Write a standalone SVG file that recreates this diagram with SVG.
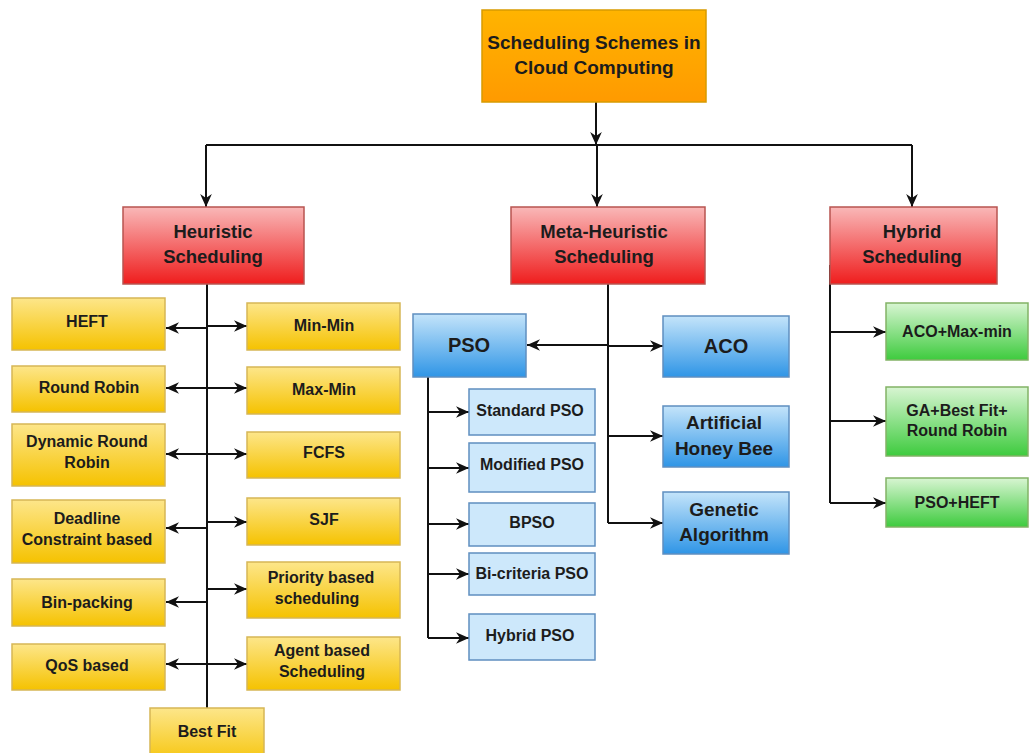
<svg xmlns="http://www.w3.org/2000/svg" width="1030" height="753" viewBox="0 0 1030 753">
<defs>
<linearGradient id="gY" x1="0" y1="0" x2="0" y2="1"><stop offset="0" stop-color="#fde68a"/><stop offset="1" stop-color="#f5c200"/></linearGradient>
<linearGradient id="gR" x1="0" y1="0" x2="0" y2="1"><stop offset="0" stop-color="#f9b8b8"/><stop offset="1" stop-color="#ef1d1d"/></linearGradient>
<linearGradient id="gO" x1="0" y1="0" x2="0" y2="1"><stop offset="0" stop-color="#ffb400"/><stop offset="1" stop-color="#ff9a00"/></linearGradient>
<linearGradient id="gB" x1="0" y1="0" x2="0" y2="1"><stop offset="0" stop-color="#c4e4fa"/><stop offset="1" stop-color="#2f95e6"/></linearGradient>
<linearGradient id="gG" x1="0" y1="0" x2="0" y2="1"><stop offset="0" stop-color="#d8f5d2"/><stop offset="1" stop-color="#3ecb3e"/></linearGradient>
<marker id="ah" viewBox="0 0 10 10" refX="10" refY="5" markerWidth="13" markerHeight="13" orient="auto" markerUnits="userSpaceOnUse">
<path d="M0,0.5 L10,5 L0,9.5 L3,5 z" fill="#111"/>
</marker>
</defs>
<style>
.y{fill:url(#gY);stroke:#d6b656;stroke-width:1.5}
.r{fill:url(#gR);stroke:#b85450;stroke-width:1.5}
.o{fill:url(#gO);stroke:#d79b00;stroke-width:1.5}
.b{fill:url(#gB);stroke:#5f8fc0;stroke-width:1.5}
.lb{fill:#cde8fb;stroke:#5f8fc0;stroke-width:1.5}
.g{fill:url(#gG);stroke:#82b366;stroke-width:1.5}
text{font-family:"Liberation Sans",Arial,sans-serif;font-weight:bold;fill:#1c1c1c;text-anchor:middle}
.t19{font-size:19px}
.t18{font-size:18.5px}
.t16{font-size:16px}
.t20{font-size:20px}
.c{fill:none;stroke:#111;stroke-width:2}
.ca{fill:none;stroke:#111;stroke-width:2;marker-end:url(#ah)}
</style>
<rect width="1030" height="753" fill="#ffffff"/>
<g id="connectors">
<path class="ca" d="M596,102 V145"/>
<path class="c" d="M206,145 H912"/>
<path class="ca" d="M206,145 V207"/>
<path class="ca" d="M597,145 V207"/>
<path class="ca" d="M912,145 V207"/>
<path class="c" d="M207,284 V708"/>
<path class="ca" d="M207,328 H166"/>
<path class="ca" d="M207,326 H247"/>
<path class="ca" d="M207,388 H166"/>
<path class="ca" d="M207,388 H247"/>
<path class="ca" d="M207,454 H166"/>
<path class="ca" d="M207,454 H247"/>
<path class="ca" d="M207,528 H166"/>
<path class="ca" d="M207,522 H247"/>
<path class="ca" d="M207,602 H166"/>
<path class="ca" d="M207,589 H247"/>
<path class="ca" d="M207,664 H166"/>
<path class="ca" d="M207,664 H247"/>
<path class="c" d="M608,284 V523"/>
<path class="ca" d="M608,345 H527"/>
<path class="ca" d="M608,346 H663"/>
<path class="ca" d="M608,436 H663"/>
<path class="ca" d="M608,523 H663"/>
<path class="c" d="M428,377 V638"/>
<path class="ca" d="M428,412 H469"/>
<path class="ca" d="M428,468 H469"/>
<path class="ca" d="M428,524 H469"/>
<path class="ca" d="M428,574 H469"/>
<path class="ca" d="M428,638 H469"/>
<path class="c" d="M830,265 V503"/>
<path class="ca" d="M830,332 H886"/>
<path class="ca" d="M830,421 H886"/>
<path class="ca" d="M830,503 H886"/>
</g>
<g id="root"><rect class="o" x="482" y="10" width="224" height="92"/><text class="t19" x="594" y="49">Scheduling Schemes in</text><text class="t19" x="594" y="74">Cloud Computing</text></g>
<g id="heuristic"><rect class="r" x="123" y="207" width="181" height="77"/><text class="t18" x="213" y="238">Heuristic</text><text class="t18" x="213" y="263">Scheduling</text></g>
<g id="meta"><rect class="r" x="511" y="207" width="194" height="77"/><text class="t18" x="604" y="238">Meta-Heuristic</text><text class="t18" x="604" y="263">Scheduling</text></g>
<g id="hybrid"><rect class="r" x="830" y="207" width="167" height="77"/><text class="t18" x="912" y="238">Hybrid</text><text class="t18" x="912" y="263">Scheduling</text></g>
<g id="heft"><rect class="y" x="12" y="298" width="153" height="52"/><text class="t16" x="87" y="327">HEFT</text></g>
<g id="roundrobin"><rect class="y" x="12" y="366" width="153" height="46"/><text class="t16" x="89" y="393">Round Robin</text></g>
<g id="drr"><rect class="y" x="12" y="424" width="153" height="62"/><text class="t16" x="87" y="447">Dynamic Round</text><text class="t16" x="87" y="468">Robin</text></g>
<g id="deadline"><rect class="y" x="12" y="500" width="153" height="63"/><text class="t16" x="87" y="524">Deadline</text><text class="t16" x="87" y="545">Constraint based</text></g>
<g id="binpacking"><rect class="y" x="12" y="579" width="153" height="47"/><text class="t16" x="87" y="608">Bin-packing</text></g>
<g id="qos"><rect class="y" x="12" y="644" width="153" height="46"/><text class="t16" x="87" y="671">QoS based</text></g>
<g id="minmin"><rect class="y" x="247" y="303" width="153" height="47"/><text class="t16" x="324" y="331">Min-Min</text></g>
<g id="maxmin"><rect class="y" x="247" y="367" width="153" height="47"/><text class="t16" x="324" y="395">Max-Min</text></g>
<g id="fcfs"><rect class="y" x="247" y="432" width="153" height="46"/><text class="t16" x="324" y="458">FCFS</text></g>
<g id="sjf"><rect class="y" x="247" y="498" width="153" height="47"/><text class="t16" x="324" y="525">SJF</text></g>
<g id="priority"><rect class="y" x="247" y="562" width="153" height="56"/><text class="t16" x="321" y="583">Priority based</text><text class="t16" x="317" y="604">scheduling</text></g>
<g id="agent"><rect class="y" x="247" y="637" width="153" height="53"/><text class="t16" x="322" y="656">Agent based</text><text class="t16" x="322" y="677">Scheduling</text></g>
<g id="bestfit"><rect class="y" x="150" y="708" width="114" height="60"/><text class="t16" x="207" y="737">Best Fit</text></g>
<g id="pso"><rect class="b" x="413" y="314" width="113" height="63"/><text class="t20" x="469" y="352">PSO</text></g>
<g id="aco"><rect class="b" x="663" y="316" width="126" height="61"/><text class="t20" x="726" y="353">ACO</text></g>
<g id="ahb"><rect class="b" x="663" y="406" width="126" height="61"/><text class="t19" x="724" y="429">Artificial</text><text class="t19" x="724" y="455">Honey Bee</text></g>
<g id="ga"><rect class="b" x="663" y="492" width="126" height="62"/><text class="t19" x="724" y="516">Genetic</text><text class="t19" x="724" y="541">Algorithm</text></g>
<g id="standardpso"><rect class="lb" x="469" y="389" width="126" height="46"/><text class="t16" x="530" y="416">Standard PSO</text></g>
<g id="modifiedpso"><rect class="lb" x="469" y="443" width="126" height="49"/><text class="t16" x="532" y="470">Modified PSO</text></g>
<g id="bpso"><rect class="lb" x="469" y="503" width="126" height="43"/><text class="t16" x="532" y="528">BPSO</text></g>
<g id="bicriteria"><rect class="lb" x="469" y="553" width="126" height="42"/><text class="t16" x="532" y="579">Bi-criteria PSO</text></g>
<g id="hybridpso"><rect class="lb" x="469" y="614" width="126" height="46"/><text class="t16" x="530" y="641">Hybrid PSO</text></g>
<g id="acomaxmin"><rect class="g" x="886" y="303" width="142" height="57"/><text class="t16" x="957" y="337">ACO+Max-min</text></g>
<g id="gabf"><rect class="g" x="886" y="387" width="142" height="69"/><text class="t16" x="957" y="416">GA+Best Fit+</text><text class="t16" x="957" y="436">Round Robin</text></g>
<g id="psoheft"><rect class="g" x="886" y="478" width="142" height="49"/><text class="t16" x="957" y="508">PSO+HEFT</text></g>
</svg>
